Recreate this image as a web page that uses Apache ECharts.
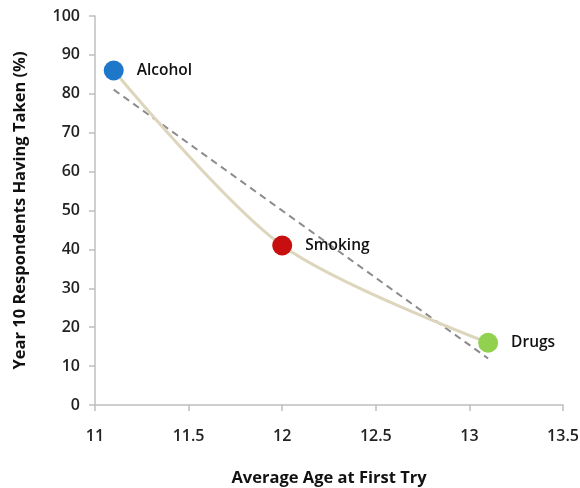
<!DOCTYPE html>
<html>
<head>
<meta charset="utf-8">
<script src="https://cdn.jsdelivr.net/npm/echarts@6/dist/echarts.min.js"></script>
<style>
  html, body { margin: 0; padding: 0; background: #fff; }
  #chart { width: 580px; height: 488px; }
</style>
</head>
<body>
<div id="chart"></div>
<script>
// Substances, average age at first try, and share of Year 10 respondents who have taken them
const substances = ['Alcohol', 'Smoking', 'Drugs'];
const avgAge = [11.1, 12.0, 13.1];
const percentTaken = [86, 41, 16];
const markerColors = ['#1f77c9', '#c80f0f', '#92d050'];

// Least-squares linear trend through the three points
function linearTrend(xs, ys) {
  const n = xs.length;
  const mx = xs.reduce((a, b) => a + b, 0) / n;
  const my = ys.reduce((a, b) => a + b, 0) / n;
  let sxy = 0, sxx = 0;
  for (let i = 0; i < n; i++) {
    sxy += (xs[i] - mx) * (ys[i] - my);
    sxx += (xs[i] - mx) * (xs[i] - mx);
  }
  const slope = sxy / sxx;
  const icpt = my - slope * mx;
  const x0 = Math.min(...xs), x1 = Math.max(...xs);
  return [[x0, icpt + slope * x0], [x1, icpt + slope * x1]];
}

const points = avgAge.map((x, i) => ({
  value: [x, percentTaken[i]],
  name: substances[i],
  itemStyle: { color: markerColors[i] }
}));

const font = '"Open Sans", "Noto Sans", sans-serif';

const chart = echarts.init(document.getElementById('chart'));
chart.setOption({
  animation: false,
  backgroundColor: '#ffffff',
  grid: { left: 95, right: 17, top: 16, bottom: 83, containLabel: false, outerBoundsMode: 'none' },
  xAxis: {
    type: 'value',
    min: 11, max: 13.5, interval: 0.5,
    name: 'Average Age at First Try',
    nameLocation: 'middle',
    nameGap: 65,
    nameTextStyle: { fontFamily: font, fontWeight: 'bold', fontSize: 16.5, color: '#111' },
    axisLine: { show: true, lineStyle: { color: '#bfbfbf', width: 1.5 } },
    axisTick: { show: true, length: 6, lineStyle: { color: '#bfbfbf', width: 1.5 } },
    axisLabel: { fontFamily: font, fontSize: 16, fontWeight: 600, color: '#222', margin: 23 },
    splitLine: { show: false }
  },
  yAxis: {
    type: 'value',
    min: 0, max: 100, interval: 10,
    name: 'Year 10 Respondents Having Taken (%)',
    nameLocation: 'middle',
    nameGap: 66,
    nameTextStyle: { fontFamily: font, fontWeight: 'bold', fontSize: 16.5, color: '#111' },
    axisLine: { show: true, lineStyle: { color: '#bfbfbf', width: 1.5 } },
    axisTick: { show: true, length: 6, lineStyle: { color: '#bfbfbf', width: 1.5 } },
    axisLabel: { fontFamily: font, fontSize: 16, fontWeight: 600, color: '#222', margin: 15 },
    splitLine: { show: false }
  },
  series: [
    {
      type: 'line',
      data: linearTrend(avgAge, percentTaken),
      symbol: 'none',
      lineStyle: { color: '#8c8c8c', width: 2, type: [7, 5] },
      z: 1
    },
    {
      type: 'line',
      data: points,
      smooth: 0.3,
      symbol: 'circle',
      symbolSize: 20,
      lineStyle: { color: '#ddd6bd', width: 3 },
      label: {
        show: true,
        position: 'right',
        distance: 13,
        formatter: p => p.name,
        fontFamily: font,
        fontWeight: 600,
        fontSize: 15.5,
        color: '#111'
      },
      z: 2
    }
  ]
});
</script>
</body>
</html>
